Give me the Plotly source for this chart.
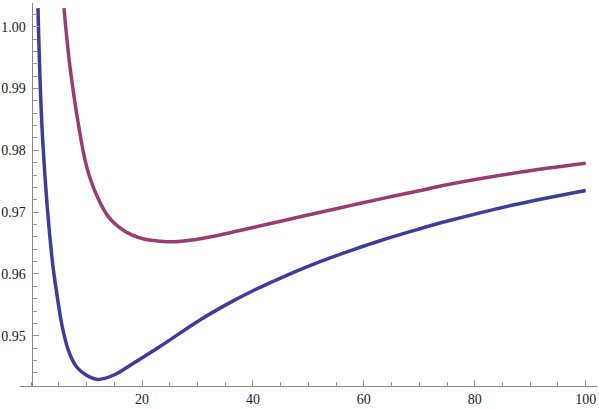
import plotly.graph_objects as go

# values
blue_x = [1.24, 2.09, 3.77, 4.62, 5.63, 6.71, 8.22, 9.90, 11.83, 13.32, 15.13,
          18.10, 23.24, 30.45, 35.86, 40.37, 44.88, 49.38, 53.89, 58.40, 62.90,
          69.58, 74.94, 86.89, 100.0]
blue_y = [1.0030, 0.98167, 0.96258, 0.95692, 0.95142, 0.94770, 0.94495, 0.94366,
          0.94296, 0.94312, 0.94374, 0.94536, 0.94827, 0.95256, 0.95537, 0.95745,
          0.95930, 0.96101, 0.96259, 0.96403, 0.96538, 0.96718, 0.96852, 0.97115,
          0.97351]

purple_x = [5.93, 7.01, 8.64, 9.72, 10.62, 12.12, 13.92, 15.72, 18.14, 20.54,
            23.24, 25.95, 28.65, 34.06, 40.01, 45.42, 51.55, 57.50, 63.45, 69.58,
            74.94, 86.95, 100.0]
purple_y = [1.0030, 0.99353, 0.98361, 0.97844, 0.97553, 0.97213, 0.96927, 0.96765,
            0.96631, 0.96561, 0.96530, 0.96522, 0.96545, 0.96631, 0.96752, 0.96862,
            0.96986, 0.97106, 0.97223, 0.97337, 0.97443, 0.97630, 0.97790]

x_ticks = [20, 40, 60, 80, 100]
y_ticks = [0.95, 0.96, 0.97, 0.98, 0.99, 1.00]
y_labels = ["0.95", "0.96", "0.97", "0.98", "0.99", "1.00"]

fig = go.Figure()
fig.add_trace(go.Scatter(x=purple_x, y=purple_y, mode="lines",
                         line=dict(color="#993D71", width=3.5, shape="spline")))
fig.add_trace(go.Scatter(x=blue_x, y=blue_y, mode="lines",
                         line=dict(color="#3D3D99", width=3.5, shape="spline")))

axis_font = dict(family="Times New Roman, Liberation Serif, serif", size=14, color="#222")

fig.update_layout(
    width=599, height=409,
    margin=dict(l=20, r=2, t=3, b=23),
    paper_bgcolor="white", plot_bgcolor="white",
    showlegend=False,
    xaxis=dict(
        range=[-2.0, 102.04], showgrid=False, zeroline=False, automargin=False,
        showline=True, linecolor="#888", linewidth=1,
        tickvals=x_ticks, ticks="inside", ticklen=6, tickcolor="#999",
        tickfont=axis_font,
        minor=dict(dtick=5, tick0=0, ticks="inside", ticklen=4, tickcolor="#999"),
    ),
    yaxis=dict(
        range=[0.94188, 1.00383], showgrid=False, zeroline=False, automargin=False,
        anchor="free", position=0.0201,
        showline=True, linecolor="#888", linewidth=1,
        tickvals=y_ticks, ticktext=y_labels, ticks="inside", ticklen=6,
        tickcolor="#999", tickfont=axis_font, ticklabelstandoff=3,
        minor=dict(dtick=0.002, tick0=0.94, ticks="inside", ticklen=4, tickcolor="#999"),
    ),
)

# drop the default body margin so the figure sits at the window's corner
fig.write_html("out.html", config={"displayModeBar": False},
               post_script="document.body.style.margin='0';"
                           "document.body.style.overflow='hidden';")
